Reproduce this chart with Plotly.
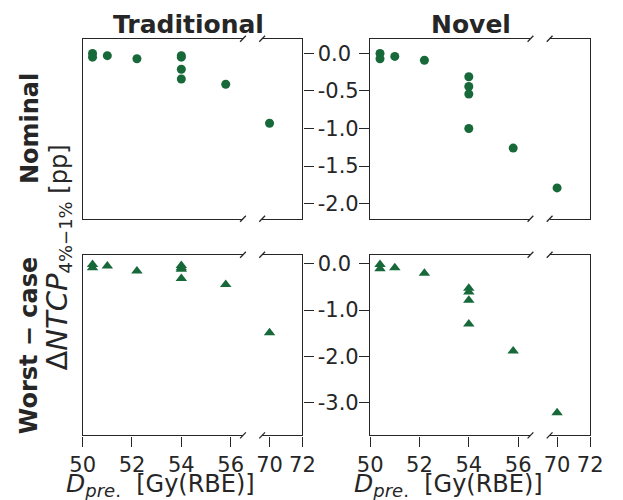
import plotly.graph_objects as go

# ---------------- data ----------------
dose = [50.4, 50.4, 51.0, 52.2, 54.0, 54.0, 54.0, 54.0, 55.8, 70.0]
nominal_traditional = [0.0, -0.05, -0.03, -0.07, -0.03, -0.05, -0.21, -0.34, -0.41, -0.93]
nominal_novel = [-0.0, -0.07, -0.04, -0.09, -0.31, -0.44, -0.54, -1.00, -1.26, -1.79]
worst_traditional = [-0.02, -0.09, -0.05, -0.16, -0.04, -0.09, -0.12, -0.32, -0.45, -1.49]
worst_novel = [-0.02, -0.11, -0.09, -0.21, -0.53, -0.61, -0.79, -1.30, -1.88, -3.21]

col_titles = ["Traditional", "Novel"]
row_titles = ["Nominal", "Worst \u2212 case"]
x_ticks_low = [50, 52, 54, 56]
x_ticks_high = [70, 72]
y_ticks_nominal = [0.0, -0.5, -1.0, -1.5, -2.0]
y_ticks_worst = [0.0, -1.0, -2.0, -3.0]
y_label = ("<span style=\"font-size:29px\">\u0394<i>NTCP</i></span>"
           "<sub><span style=\"font-size:18px\">4%\u22121%</span></sub>\u00a0[pp]")
x_label = ("<span style=\"font-size:25px\"><i>D</i></span>"
           "<sub><span style=\"font-size:18px\"><i>pre</i>.</span></sub>"
           "\u00a0\u00a0[Gy(RBE)]")

# ---------------- style ----------------
W, H = 623, 500
GREEN = "#17693a"
INK = "#262626"
FONT = "DejaVu Sans"
LW = 1.3
TICK_FS = 21

col_px = [(72.7, 240, 260, 302.0), (372.7, 540, 560, 602.3)]
row_px = [(36, 217), (253.3, 435)]
x_range_low = [50, 56.5]
x_range_high = [69.55, 72]
y_ranges = [[-2.2, 0.195], [-3.7, 0.19]]
y_ticks = [y_ticks_nominal, y_ticks_worst]
markers = ["circle", "triangle-up"]
marker_sizes = [9, 10]

panel_data = [[nominal_traditional, nominal_novel], [worst_traditional, worst_novel]]


def xd(a, b):
    return [a / W, b / W]


def yd(t, b):
    return [1 - b / H, 1 - t / H]


fig = go.Figure()
layout = {}
shapes = []
k = 0
for r in range(2):
    for c in range(2):
        vals = panel_data[r][c]
        x1a, x1b, x2a, x2b = col_px[c]
        ty, by = row_px[r]
        for s in range(2):
            k += 1
            xa = "x" if k == 1 else f"x{k}"
            ya = "y" if k == 1 else f"y{k}"
            xs = [d for d, v in zip(dose, vals) if (d < 60) == (s == 0)]
            ys = [v for d, v in zip(dose, vals) if (d < 60) == (s == 0)]
            fig.add_trace(go.Scatter(
                x=xs, y=ys, mode="markers", xaxis=xa, yaxis=ya,
                marker=dict(symbol=markers[r], size=marker_sizes[r], color=GREEN,
                            line=dict(width=0)),
                showlegend=False, cliponaxis=False))
            xkey = "xaxis" if k == 1 else f"xaxis{k}"
            ykey = "yaxis" if k == 1 else f"yaxis{k}"
            tv = x_ticks_low if s == 0 else x_ticks_high
            layout[xkey] = dict(
                domain=xd(x1a, x1b) if s == 0 else xd(x2a, x2b),
                range=x_range_low if s == 0 else x_range_high,
                anchor=ya, showline=True, mirror=True, linecolor=INK, linewidth=LW,
                showgrid=False, zeroline=False,
                ticks="outside" if r == 1 else "", ticklen=10, tickwidth=LW, tickcolor=INK,
                tickvals=tv, ticktext=[str(t) for t in tv],
                showticklabels=(r == 1),
                tickfont=dict(family=FONT, size=TICK_FS, color=INK),
                fixedrange=True)
            yt = y_ticks[r]
            show_ticks = (s == 1 and c == 0) or (s == 0 and c == 1)
            layout[ykey] = dict(
                domain=yd(ty, by), range=y_ranges[r], anchor=xa,
                side="left" if s == 0 else "right",
                showline=True, mirror=False, linecolor=INK, linewidth=LW,
                showgrid=False, zeroline=False,
                ticks="outside" if show_ticks else "", ticklen=10, tickwidth=LW, tickcolor=INK,
                tickvals=yt, ticktext=[f"{t:.1f}" for t in yt],
                showticklabels=(s == 1 and c == 0),
                tickfont=dict(family=FONT, size=TICK_FS, color=INK),
                fixedrange=True)
        # break marks
        for xp in (x1b, x2a):
            for yp in (ty, by):
                shapes.append(dict(type="line", xref="paper", yref="paper",
                                   x0=(xp - 3) / W, x1=(xp + 3) / W,
                                   y0=1 - (yp + 3) / H, y1=1 - (yp - 3) / H,
                                   line=dict(color=INK, width=LW)))

annotations = []
title_x = [183, 478]
for c in range(2):
    annotations.append(dict(text=f"<b>{col_titles[c]}</b>", x=title_x[c] / W, y=1 - 22 / H,
                            xref="paper", yref="paper", xanchor="center", yanchor="middle",
                            showarrow=False, font=dict(family=FONT, size=25, color=INK)))
    annotations.append(dict(text=x_label, x=((col_px[c][0] + col_px[c][1]) / 2 - 2) / W,
                            y=1 - 485 / H,
                            xref="paper", yref="paper", xanchor="center", yanchor="middle",
                            showarrow=False, font=dict(family=FONT, size=24, color=INK)))
row_cy = [126.5, 344]
for r in range(2):
    annotations.append(dict(text=f"<b>{row_titles[r]}</b>", x=17 / W, y=1 - row_cy[r] / H,
                            xref="paper", yref="paper", xanchor="center", yanchor="middle",
                            textangle=-90, showarrow=False,
                            font=dict(family=FONT, size=24, color=INK)))
annotations.append(dict(text=y_label, x=47 / W, y=1 - 256 / H,
                        xref="paper", yref="paper", xanchor="center", yanchor="middle",
                        textangle=-90, showarrow=False,
                        font=dict(family=FONT, size=24, color=INK)))

fig.update_layout(
    width=W, height=H, margin=dict(l=0, r=0, t=0, b=0),
    paper_bgcolor="white", plot_bgcolor="white",
    shapes=shapes, annotations=annotations, **layout)

fig.write_html("out.html")
